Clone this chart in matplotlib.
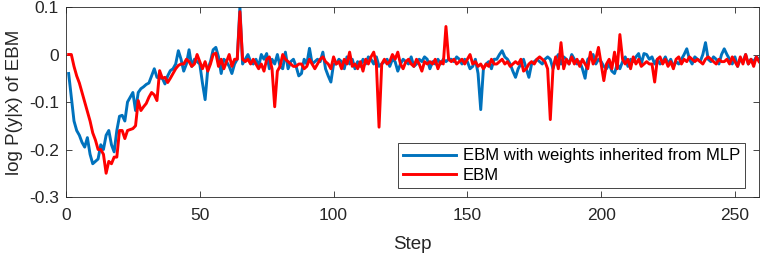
import numpy as np
import matplotlib
matplotlib.use('Agg')
from matplotlib import pyplot as plt

# log P(y|x) per step
ebm_mlp = [
    -0.04, -0.09, -0.14, -0.16, -0.17, -0.185, -0.195, -0.175, -0.21, -0.23,
    -0.225, -0.22, -0.19, -0.20, -0.17, -0.16, -0.19, -0.205, -0.16, -0.13,
    -0.128, -0.14, -0.10, -0.09, -0.08, -0.118, -0.08, -0.072, -0.068, -0.063,
    -0.06, -0.045, -0.03, -0.048, -0.05, -0.05, -0.062, -0.045, -0.034, -0.03,
    -0.02, 0.008, -0.01, -0.035, -0.02, 0.01, -0.025, -0.01, -0.015, -0.02,
    -0.06, -0.095, -0.03, -0.015, 0.01, 0.015, -0.005, -0.04, -0.01, -0.015,
    -0.025, -0.04, -0.02, -0.01, 0.10, -0.02, -0.01, 0.0, -0.015, -0.02,
    -0.01, -0.025, 0.0, -0.01, 0.002, -0.03, -0.01, -0.02, 0.0, -0.025,
    -0.03, 0.005, -0.03, -0.015, -0.01, -0.025, -0.045, -0.04, -0.01, -0.02,
    0.013, -0.02, -0.015, -0.01, -0.015, 0.005, -0.03, -0.045, -0.058, -0.02,
    -0.02, -0.01, -0.015, -0.03, -0.005, -0.02, -0.01, -0.03, -0.015, -0.025,
    -0.01, -0.02, -0.005, -0.01, -0.02, -0.005, -0.025, -0.02, -0.015, -0.01,
    -0.025, -0.01, -0.015, -0.035, -0.02, -0.01, -0.015, -0.02, -0.005, -0.025,
    -0.02, -0.01, -0.015, -0.005, -0.01, -0.03, -0.015, -0.02, -0.01, -0.02,
    -0.01, -0.015, -0.01, -0.01, -0.015, -0.005, -0.01, -0.02, -0.01, -0.015,
    -0.03, -0.025, -0.01, -0.04, -0.116, -0.03, -0.02, -0.015, -0.03, -0.01,
    -0.01, 0.0, 0.008, -0.005, -0.01, -0.02, -0.035, -0.048, -0.03, -0.02,
    -0.01, -0.03, -0.048, -0.02, -0.015, -0.01, -0.015, -0.02, -0.01, -0.005,
    -0.01, -0.03, -0.01, 0.0, -0.02, -0.005, -0.01, -0.02, 0.0, -0.01,
    -0.02, -0.015, -0.03, -0.05, -0.01, -0.005, 0.0, -0.02, -0.01, -0.015,
    -0.025, -0.03, -0.02, -0.035, -0.04, -0.02, -0.03, -0.015, -0.005, -0.025,
    -0.01, -0.015, -0.005, 0.002, -0.02, 0.002, 0.0, -0.01, -0.005, -0.02,
    -0.01, -0.02, -0.015, -0.005, -0.02, -0.01, -0.025, -0.015, -0.02, -0.01,
    0.0, 0.012, -0.01, -0.02, -0.005, -0.01, -0.015, 0.0, 0.025, -0.01,
    -0.015, -0.005, -0.01, -0.02, 0.0, 0.012, 0.0, -0.01, -0.02, -0.005,
    -0.025, -0.01, -0.015, 0.0, -0.02, -0.01, -0.015, -0.005, -0.01,
]

ebm = [
    0.0, 0.0, -0.025, -0.045, -0.06, -0.08, -0.10, -0.12, -0.14, -0.165,
    -0.18, -0.20, -0.20, -0.21, -0.25, -0.225, -0.23, -0.216, -0.216, -0.16,
    -0.16, -0.177, -0.16, -0.158, -0.156, -0.15, -0.097, -0.118, -0.11, -0.103,
    -0.09, -0.08, -0.085, -0.097, -0.034, -0.05, -0.048, -0.059, -0.05, -0.04,
    -0.03, -0.023, -0.02, -0.02, -0.01, -0.015, -0.025, -0.02, 0.0, -0.015,
    -0.03, -0.015, -0.035, -0.02, 0.0, 0.003, -0.025, -0.01, -0.03, -0.015,
    0.0, -0.025, -0.01, -0.01, 0.09, -0.01, -0.015, -0.01, -0.02, -0.01,
    -0.02, -0.03, -0.02, -0.035, -0.01, -0.005, -0.03, -0.11, -0.035, -0.025,
    0.0, -0.01, -0.015, -0.02, -0.025, -0.025, -0.02, -0.02, -0.03, -0.025,
    -0.01, -0.02, -0.03, -0.02, -0.01, -0.005, -0.015, -0.02, -0.03, -0.005,
    -0.02, -0.015, -0.03, -0.01, -0.02, 0.005, -0.025, -0.02, -0.03, -0.015,
    -0.035, -0.01, -0.02, -0.005, 0.005, -0.02, -0.153, -0.02, -0.01, -0.02,
    -0.015, 0.0, -0.01, 0.005, -0.02, -0.03, -0.015, -0.01, -0.02, -0.025,
    -0.01, -0.02, -0.035, -0.015, -0.02, -0.015, -0.02, -0.01, -0.03, -0.015,
    -0.02, 0.059, -0.01, -0.015, -0.01, -0.02, -0.015, -0.01, -0.02, -0.01,
    0.0, -0.02, -0.015, -0.025, -0.02, -0.03, -0.02, -0.025, -0.01, -0.02,
    -0.02, -0.015, -0.01, -0.02, -0.015, -0.025, -0.02, -0.015, -0.02, -0.01,
    -0.035, -0.03, -0.02, -0.015, -0.02, -0.01, -0.005, -0.01, -0.015, -0.03,
    -0.137, -0.03, -0.005, -0.03, 0.025, -0.03, -0.01, -0.02, -0.005, -0.02,
    -0.01, -0.025, -0.01, -0.02, -0.03, 0.005, -0.02, -0.01, 0.015, -0.02,
    -0.055, -0.02, -0.01, -0.03, 0.005, -0.03, 0.042, -0.01, -0.02, -0.01,
    -0.03, -0.005, -0.02, -0.01, -0.025, -0.02, -0.015, -0.02, -0.02, -0.058,
    -0.01, -0.005, -0.02, -0.01, -0.025, -0.015, -0.03, -0.01, -0.005, -0.02,
    -0.01, -0.015, -0.005, -0.01, -0.015, -0.01, -0.015, -0.02, -0.01, -0.005,
    -0.01, -0.015, -0.02, -0.01, -0.015, -0.015, -0.01, -0.02, -0.005, -0.015,
    -0.025, -0.005, -0.02, 0.0, -0.02, -0.01, -0.025, -0.005, -0.015,
]

labels = ['EBM with weights inherited from MLP', 'EBM']
xticks = [0, 50, 100, 150, 200, 250]
yticks = [-0.3, -0.2, -0.1, 0, 0.1]
ytick_labels = ['-0.3', '-0.2', '-0.1', '0', '0.1']

plt.rcParams['font.family'] = ['Liberation Sans', 'DejaVu Sans']

fig = plt.figure(figsize=(7.61, 2.54), dpi=100)
ax = fig.add_axes([0.0867, 0.2244, 0.9107, 0.748])

steps1 = np.arange(1, len(ebm_mlp) + 1)
steps2 = np.arange(1, len(ebm) + 1)
ax.plot(steps1, ebm_mlp, color='#0072BD', lw=2.1, label=labels[0])
ax.plot(steps2, ebm, color='#FF0000', lw=2.1, label=labels[1])

ax.set_xlim(0, 259)
ax.set_ylim(-0.3, 0.1)
ax.set_xticks(xticks)
ax.set_yticks(yticks)
ax.set_yticklabels(ytick_labels)
ax.tick_params(direction='in', top=True, right=True, labelsize=12.5,
               colors='#262626', length=4.5, width=0.6)
ax.tick_params(axis='x', pad=8)
ax.tick_params(axis='y', pad=5)
for s in ax.spines.values():
    s.set_color('#262626')
    s.set_linewidth(0.6)

ax.set_xlabel('Step', fontsize=13.5, color='#262626', labelpad=9)
ax.set_ylabel('log P(y|x) of EBM', fontsize=13.5, color='#262626', labelpad=4)

leg = ax.legend(loc='lower right', bbox_to_anchor=(0.98, 0.05), borderaxespad=0,
                fontsize=12, fancybox=False, framealpha=1, edgecolor='#262626',
                handlelength=3.2, handletextpad=0.4, borderpad=0.3,
                labelspacing=0.25)
leg.get_frame().set_linewidth(0.6)

fig.savefig('out.png', dpi=100)
